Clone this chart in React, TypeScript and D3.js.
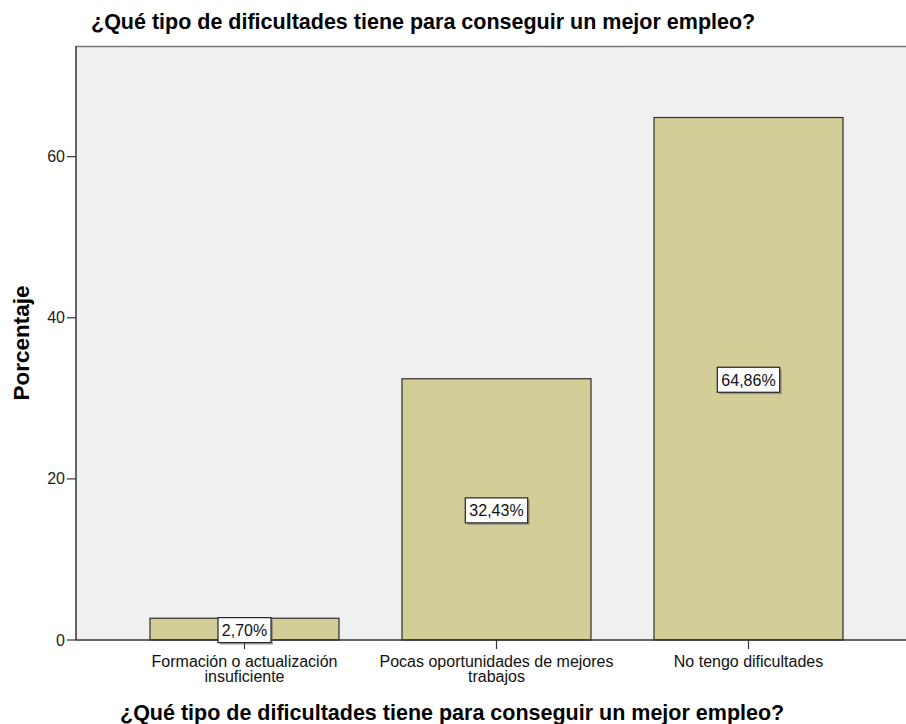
import React from "react";
import * as d3 from "d3";

const categories = [
  ["Formación o actualización", "insuficiente"],
  ["Pocas oportunidades de mejores", "trabajos"],
  ["No tengo dificultades"],
];
const categoryKeys = ["c1", "c2", "c3"];
const values = [2.7, 32.43, 64.86];
const valueLabels = ["2,70%", "32,43%", "64,86%"];
const yTicks = [0, 20, 40, 60];
const title = "¿Qué tipo de dificultades tiene para conseguir un mejor empleo?";
const yTitle = "Porcentaje";

const W = 906;
const H = 724;
const plotLeft = 76;
const plotTop = 46;
const plotBottom = 640;
const plotRight = 906;
const FONT = "'Liberation Sans', Arial, sans-serif";

export default function App() {
  const y = d3.scaleLinear().domain([0, 73.74]).range([plotBottom, plotTop]);
  const x = d3
    .scaleBand<string>()
    .domain(categoryKeys)
    .range([118.5, 874.5])
    .paddingInner(0.25)
    .paddingOuter(0.125);

  return (
    <svg
      width={W}
      height={H}
      style={{ position: "absolute", left: 0, top: 0, background: "#fff" }}
      fontFamily={FONT}
    >
      <text x={91} y={29} fontSize={21.5} fontWeight="bold" fill="#000">
        {title}
      </text>
      <rect
        x={plotLeft}
        y={plotTop}
        width={plotRight - plotLeft}
        height={plotBottom - plotTop}
        fill="#f0f0f0"
      />
      <line x1={plotLeft} x2={plotRight} y1={plotTop + 0.5} y2={plotTop + 0.5} stroke="#777" strokeWidth={1.5} />
      {values.map((v, i) => {
        const k = categoryKeys[i];
        const bx = x(k)!;
        const bw = x.bandwidth();
        return (
          <rect
            key={k}
            x={bx}
            y={y(v)}
            width={bw}
            height={plotBottom - y(v)}
            fill="#d3ce98"
            stroke="#2f2f2f"
            strokeWidth={1.2}
          />
        );
      })}
      {/* axes */}
      <line x1={plotLeft} x2={plotLeft} y1={plotTop} y2={plotBottom} stroke="#333" strokeWidth={1.5} />
      <line x1={plotLeft} x2={plotRight} y1={plotBottom} y2={plotBottom} stroke="#333" strokeWidth={1.5} />
      {yTicks.map((t) => (
        <g key={t}>
          <line x1={plotLeft - 9} x2={plotLeft} y1={y(t)} y2={y(t)} stroke="#333" strokeWidth={1.2} />
          <text x={plotLeft - 11} y={y(t)} dy="0.35em" textAnchor="end" fontSize={16} fill="#222">
            {t}
          </text>
        </g>
      ))}
      {categoryKeys.map((k, i) => {
        const cx = x(k)! + x.bandwidth() / 2;
        return (
          <g key={k}>
            <line x1={cx} x2={cx} y1={plotBottom} y2={plotBottom + 9} stroke="#333" strokeWidth={1.2} />
            {categories[i].map((line, j) => (
              <text key={j} x={cx} y={667 + j * 15} textAnchor="middle" fontSize={16} fill="#111">
                {line}
              </text>
            ))}
          </g>
        );
      })}
      {/* value labels */}
      {values.map((v, i) => {
        const k = categoryKeys[i];
        const cx = x(k)! + x.bandwidth() / 2;
        const cy = (y(v) + plotBottom) / 2 + 1;
        const label = valueLabels[i];
        const tw = label.length * 9.4 + 6;
        const bh = 25;
        return (
          <g key={"l" + k}>
            <rect x={cx - tw / 2 + 2} y={cy - bh / 2 + 2} width={tw} height={bh} fill="#777" opacity={0.6} />
            <rect x={cx - tw / 2} y={cy - bh / 2} width={tw} height={bh} fill="#fff" stroke="#222" strokeWidth={1.2} />
            <text x={cx} y={cy} dy="0.36em" textAnchor="middle" fontSize={16} fill="#111">
              {label}
            </text>
          </g>
        );
      })}
      <text
        transform={`translate(29,${(plotTop + plotBottom) / 2}) rotate(-90)`}
        textAnchor="middle"
        fontSize={22.5}
        fontWeight="bold"
        fill="#000"
      >
        {yTitle}
      </text>
      <text x={120} y={720} fontSize={21.5} fontWeight="bold" fill="#000">
        {title}
      </text>
    </svg>
  );
}
